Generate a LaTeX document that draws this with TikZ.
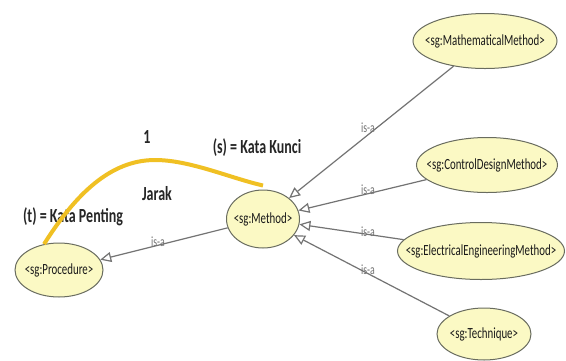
\documentclass[tikz,border=0pt]{standalone}
\usepackage{fontspec}
\setmainfont[FakeStretch=0.7]{Carlito}
\usetikzlibrary{arrows.meta,shapes.geometric}

\definecolor{clsfill}{RGB}{251,249,196}
\definecolor{clsline}{RGB}{105,108,95}
\definecolor{isagray}{RGB}{115,115,115}
\definecolor{jarakline}{RGB}{240,192,35}

\begin{document}
\begin{tikzpicture}[x=1pt,y=-1pt,
    cls/.style={ellipse, draw=clsline, line width=1pt, fill=clsfill, inner xsep=-30pt, inner ysep=0pt,
        text=black!90, font=\fontsize{15.5}{15.5}\selectfont},
    isa/.style={draw=isagray, line width=1.2pt, -{Triangle[length=11pt,width=10pt,fill=white]}},
    isalabel/.style={text=isagray, font=\fontsize{14}{14}\selectfont},
    big/.style={text=black!85, font=\fontsize{20}{20}\selectfont\bfseries}]

    \useasboundingbox[fill=white] (0,0) rectangle (566,360);

    \node[cls, minimum width=88pt, minimum height=54pt] (Procedure) at (59,270) {<sg:Procedure>};
    \node[cls, minimum width=73pt, minimum height=58pt] (Method) at (263,219) {<sg:Method>};
    \node[cls, minimum width=144pt, minimum height=55pt] (MathMethod) at (485,41) {<sg:MathematicalMethod>};
    \node[cls, minimum width=141pt, minimum height=55pt] (ControlMethod) at (487,165) {<sg:ControlDesignMethod>};
    \node[cls, minimum width=167pt, minimum height=57pt] (ElecMethod) at (481,251) {<sg:ElectricalEngineeringMethod>};
    \node[cls, minimum width=94pt, minimum height=52pt] (Technique) at (484,334) {<sg:Technique>};

    \draw[isa] (Method) -- (Procedure);
    \draw[isa] (MathMethod) -- (Method);
    \draw[isa] (ControlMethod) -- (Method);
    \draw[isa] (ElecMethod) -- (Method);
    \draw[isa] (Technique) -- (Method);

    \node[isalabel] (isa1) at (158,242) {is-a};
    \node[isalabel] (isa2) at (368,128) {is-a};
    \node[isalabel] (isa3) at (368,190) {is-a};
    \node[isalabel] (isa4) at (368,232) {is-a};
    \node[isalabel] (isa5) at (368,270) {is-a};

    \node[big] (one) at (147,137) {1};
    \node[big] (kunci) at (257,148) {(s) = Kata Kunci};
    \node[big] (jarak) at (157,194) {Jarak};
    \node[big] (penting) at (73,217) {(t) = Kata Penting};

    \coordinate (peak) at (155,160);
    \draw[jarakline, line width=4pt] (Procedure.120) .. controls (75,195) and (110,160) .. (peak)
        .. controls (190,160) and (230,178) .. ([yshift=4pt]Method.north);
\end{tikzpicture}
\end{document}
